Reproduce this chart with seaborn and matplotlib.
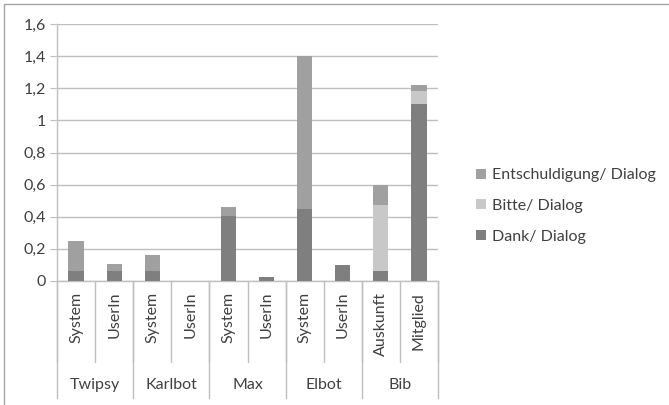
import numpy as np
import pandas as pd
import seaborn as sns
import matplotlib.pyplot as plt
from matplotlib.patches import Patch
from matplotlib.lines import Line2D

# data
groups = ['Twipsy', 'Twipsy', 'Karlbot', 'Karlbot', 'Max', 'Max', 'Elbot', 'Elbot', 'Bib', 'Bib']
roles = ['System', 'UserIn', 'System', 'UserIn', 'System', 'UserIn', 'System', 'UserIn', 'Auskunft', 'Mitglied']
dank = [0.065, 0.065, 0.065, 0.0, 0.405, 0.025, 0.45, 0.10, 0.065, 1.10]
bitte = [0.0, 0.0, 0.0, 0.0, 0.0, 0.0, 0.0, 0.0, 0.41, 0.085]
entschuldigung = [0.185, 0.04, 0.095, 0.0, 0.055, 0.0, 0.95, 0.0, 0.12, 0.035]
series_names = ['Entschuldigung/ Dialog', 'Bitte/ Dialog', 'Dank/ Dialog']
colors = {'Dank/ Dialog': '#7f7f7f', 'Bitte/ Dialog': '#c8c8c8', 'Entschuldigung/ Dialog': '#a0a0a0'}

df = pd.DataFrame({'group': groups, 'role': roles,
                   'dank': dank, 'bitte': bitte, 'entsch': entschuldigung})
df['key'] = [f'{g}_{r}' for g, r in zip(groups, roles)]
# cumulative heights for the stacked look
df['lvl1'] = df['dank']
df['lvl2'] = df['dank'] + df['bitte']
df['lvl3'] = df['lvl2'] + df['entsch']

sns.set_style('white')
plt.rcParams['font.family'] = ['Lato', 'DejaVu Sans']
text_color = '#404040'
grid_color = '#bfbfbf'
fs = 11.5

fig = plt.figure(figsize=(6.69, 4.05), dpi=100)
ax = fig.add_axes([57 / 669, 1 - 281 / 405, 381 / 669, 257 / 405])

order = list(df['key'])
for col, name in [('lvl3', 'Entschuldigung/ Dialog'), ('lvl2', 'Bitte/ Dialog'), ('lvl1', 'Dank/ Dialog')]:
    sns.barplot(data=df, x='key', y=col, order=order, color=colors[name],
                width=0.4, saturation=1, linewidth=0, edgecolor='none', ax=ax, zorder=3)

ax.set_xlim(-0.5, len(order) - 0.5)
ax.set_ylim(0, 1.6)
yticks = np.arange(0, 1.61, 0.2)
ax.set_yticks(yticks)
ax.set_yticklabels([f'{v:g}'.replace('.', ',') for v in np.round(yticks, 1)],
                   fontsize=fs, color=text_color)
ax.tick_params(axis='y', length=5, color=grid_color, pad=3, left=True)
ax.yaxis.grid(True, color=grid_color, linewidth=1, zorder=0)
ax.set_axisbelow(True)
ax.set_xlabel('')
ax.set_ylabel('')
ax.set_xticks([])
for side in ['top', 'right']:
    ax.spines[side].set_visible(False)
for side in ['left', 'bottom']:
    ax.spines[side].set_color(grid_color)
    ax.spines[side].set_linewidth(1)

# two-level category axis
tr = ax.get_xaxis_transform()
inner_bottom = -81 / 257
outer_bottom = -117 / 257
for i, r in enumerate(roles):
    ax.text(i, -11 / 257, r, transform=tr, rotation=90, ha='center', va='top',
            fontsize=fs, color=text_color)
for b in np.arange(-0.5, len(order), 1.0):
    ax.add_line(Line2D([b, b], [0, inner_bottom], transform=tr, color=grid_color,
                       linewidth=1, clip_on=False))
starts = [0]
for i in range(1, len(groups)):
    if groups[i] != groups[i - 1]:
        starts.append(i)
starts.append(len(groups))
for s, e in zip(starts[:-1], starts[1:]):
    ax.text((s + e - 1) / 2, -104 / 257, groups[s], transform=tr, ha='center', va='center',
            fontsize=fs, color=text_color)
for b in starts:
    ax.add_line(Line2D([b - 0.5, b - 0.5], [0, outer_bottom], transform=tr, color=grid_color,
                       linewidth=1, clip_on=False))

handles = [Patch(facecolor=colors[n], edgecolor='none', label=n) for n in series_names]
fig.legend(handles=handles, loc='center left', bbox_to_anchor=(462 / 669, 1 - 206 / 405),
           frameon=False, fontsize=fs, handlelength=0.6, handleheight=0.6,
           handletextpad=0.35, labelspacing=1.05, labelcolor=text_color)

# chart frame (only top and left visible in the crop)
fig.add_artist(Line2D([4 / 669, 4 / 669], [0, 1 - 4 / 405], transform=fig.transFigure,
                      color='#a6a6a6', linewidth=1))
fig.add_artist(Line2D([4 / 669, 1], [1 - 4 / 405, 1 - 4 / 405], transform=fig.transFigure,
                      color='#a6a6a6', linewidth=1))

fig.savefig('out.png', dpi=100)
